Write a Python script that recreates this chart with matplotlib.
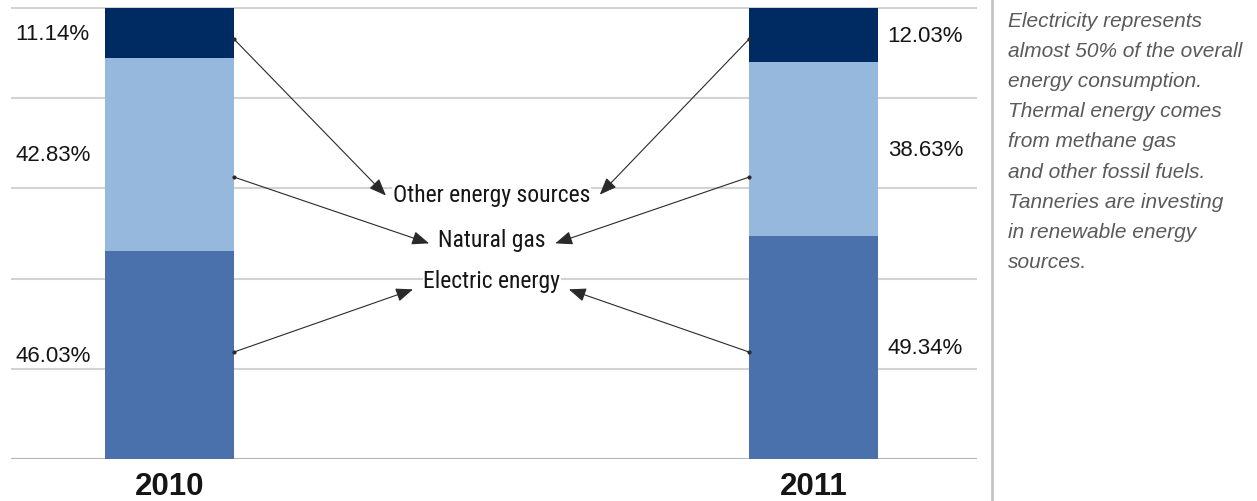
import matplotlib
matplotlib.use("Agg")
import matplotlib.pyplot as plt
from matplotlib import font_manager

# Energy mix of tanneries, share of total consumption (%)
years = ["2010", "2011"]
electric = [46.03, 49.34]
natural_gas = [42.83, 38.63]
other_sources = [11.14, 12.03]

source_names = ["Other energy sources", "Natural gas", "Electric energy"]
note_lines = [
    "Electricity represents",
    "almost 50% of the overall",
    "energy consumption.",
    "Thermal energy comes",
    "from methane gas",
    "and other fossil fuels.",
    "Tanneries are investing",
    "in renewable energy",
    "sources.",
]

installed = {f.name for f in font_manager.fontManager.ttflist}


def first_installed(names):
    return [n for n in names if n in installed] or ["DejaVu Sans"]


regular = first_installed(["Liberation Sans", "DejaVu Sans"])
condensed = first_installed(["Liberation Sans Narrow", "Roboto Condensed",
                             "Roboto", "Liberation Sans"])

col_electric = "#4a71ab"
col_gas = "#95b8dc"
col_other = "#002a62"
ink = "#151515"

fig = plt.figure(figsize=(12.57, 5.02), dpi=100)
ax = fig.add_axes([0.00875, 0.0837, 0.7686, 0.9004])

x = [0, 1]
w = 0.2
ax.bar(x, electric, w, color=col_electric, zorder=2)
ax.bar(x, natural_gas, w, bottom=electric, color=col_gas, zorder=2)
bottom_other = [e + g for e, g in zip(electric, natural_gas)]
ax.bar(x, other_sources, w, bottom=bottom_other, color=col_other, zorder=2)

ax.set_xlim(-0.2461, 1.2539)
ax.set_ylim(0, 100.2)
for gy in range(20, 101, 20):
    ax.axhline(gy, color="#d3d3d3", lw=1.5, zorder=1)
ax.axhline(0, color="#b5b5b5", lw=1.5, zorder=1)
for s in ax.spines.values():
    s.set_visible(False)
ax.set_xticks([])
ax.set_yticks([])

# Percentage labels beside each segment
pct_kw = dict(fontsize=16, family=regular, color=ink, va="center")
for i, xi in enumerate(x):
    mids = [electric[i] / 2,
            electric[i] + natural_gas[i] / 2,
            bottom_other[i] + other_sources[i] / 2]
    vals = [electric[i], natural_gas[i], other_sources[i]]
    lx = -0.239 if i == 0 else 1.115
    for m, v in zip(mids, vals):
        ax.text(lx, m, f"{v:.2f}%", ha="left", **pct_kw)

# Year labels under the bars
for xi, yr in zip(x, years):
    ax.text(xi, -7.8, yr, ha="center", va="baseline", fontsize=22.5,
            fontweight="bold", family=regular, color=ink, clip_on=False)

# Source names in the middle, with arrows from each segment
name_y = [57.1, 47.3, 38.1]
for name, ny in zip(source_names, name_y):
    ax.text(0.5, ny, name, ha="center", va="baseline", fontsize=17,
            family=condensed, color=ink, zorder=4,
            bbox=dict(facecolor="white", edgecolor="none", pad=0.3))

arrow_start_y = [93.1, 62.5, 23.7]
tips_left = [(0.336, 58.4), (0.403, 47.8), (0.378, 37.6)]
tips_right = [(0.668, 58.6), (0.599, 47.8), (0.620, 37.6)]
aprops = dict(arrowstyle="-|>,head_length=0.55,head_width=0.22",
              mutation_scale=19, lw=0.8, color="#2a2a2a",
              shrinkA=0, shrinkB=0)
for sy, tl, tr in zip(arrow_start_y, tips_left, tips_right):
    ax.annotate("", xy=tl, xytext=(0.1, sy), arrowprops=aprops, zorder=5)
    ax.annotate("", xy=tr, xytext=(0.9, sy), arrowprops=aprops, zorder=5)
    ax.plot([0.1, 0.9], [sy, sy], "o", ms=2, color="#2a2a2a", zorder=5,
            linestyle="none")

# Side note with a separator line
fig.add_artist(plt.Line2D([992 / 1257, 992 / 1257], [0, 1], color="#c4c4c4",
                          lw=2, transform=fig.transFigure))
for k, line in enumerate(note_lines):
    base_px = 27 + k * 30.1
    fig.text(1008 / 1257, 1 - base_px / 502, line, ha="left", va="baseline",
             fontsize=15, style="italic", family=regular, color="#5a5a5a")

fig.savefig("out.png", dpi=100, facecolor="white")
